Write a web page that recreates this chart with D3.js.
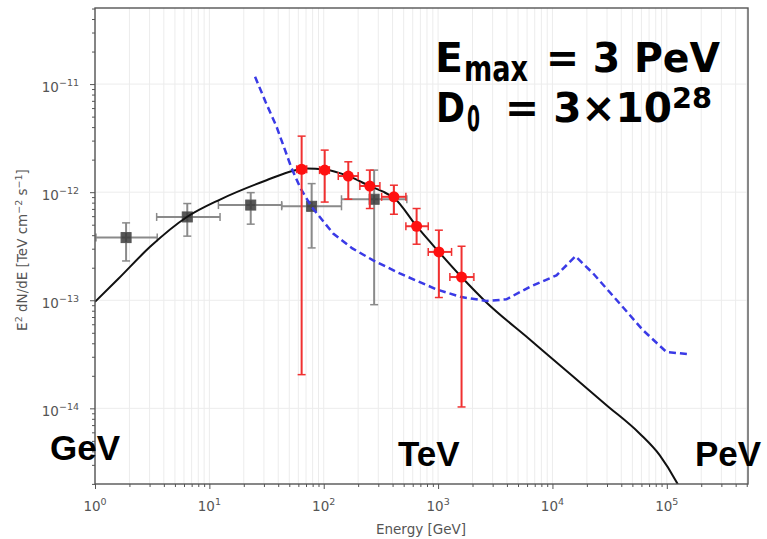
<!DOCTYPE html>
<html>
<head>
<meta charset="utf-8">
<script src="https://cdn.jsdelivr.net/npm/d3@7"></script>
<style>
  html, body { margin: 0; padding: 0; background: #fff; }
  svg { display: block; }
</style>
</head>
<body>
<svg id="chart" width="767" height="539"></svg>
<script>
// Energy axis decades and flux decades used for labelled ticks
const xTickExponents = [0, 1, 2, 3, 4, 5];
const yTickExponents = [-14, -13, -12, -11];

// Fermi-LAT style points (grey squares): energy [GeV], E^2 dN/dE, error ranges
const greyE    = [1.87, 6.41, 23.0, 78.4, 276];
const greyELo  = [1.02, 3.46, 12.0, 42.9, 143];
const greyEHi  = [3.50, 12.4, 42.9, 143, 533];
const greyF    = [3.8e-13, 5.9e-13, 7.6e-13, 7.4e-13, 8.6e-13];
const greyFLo  = [2.31e-13, 3.92e-13, 5.06e-13, 3.05e-13, 9.1e-14];
const greyFHi  = [5.2e-13, 7.85e-13, 9.9e-13, 1.2e-12, 1.6e-12];

// Cherenkov telescope points (red circles)
const redE    = [64.1, 102, 164, 253, 411, 649, 1016, 1604];
const redELo  = [58, 92, 134, 207, 321, 523, 820, 1268];
const redEHi  = [71, 112, 200, 310, 523, 820, 1312, 2056];
const redF    = [1.63e-12, 1.60e-12, 1.41e-12, 1.14e-12, 9.06e-13, 4.84e-13, 2.80e-13, 1.64e-13];
const redFLo  = [2.05e-14, 8.1e-13, 8.6e-13, 7.06e-13, 6.25e-13, 3.3e-13, 1.06e-13, 1.03e-14];
const redFHi  = [3.3e-12, 2.45e-12, 1.91e-12, 1.6e-12, 1.16e-12, 7.06e-13, 4.45e-13, 3.16e-13];

// Hadronic model spectrum (black line)
const modelE = [1.0, 1.60, 3.03, 6.41, 12.4, 31.6, 54.2, 70.8, 102, 164, 262, 331, 419, 649, 1016, 1603, 2564, 6339, 15066, 29717, 58076, 86896, 121619, 130017];
const modelF = [9.66e-14, 1.58e-13, 3.12e-13, 5.92e-13, 8.55e-13, 1.29e-12, 1.58e-12, 1.66e-12, 1.62e-12, 1.41e-12, 1.12e-12, 1.01e-12, 8.71e-13, 4.84e-13, 2.80e-13, 1.64e-13, 9.86e-14, 4.34e-14, 1.98e-14, 1.07e-14, 5.83e-15, 3.67e-15, 2.08e-15, 1.82e-15];

// Instrument sensitivity curve (blue dashed)
const sensE = [25.1, 30.9, 38.7, 52.4, 63.1, 78.3, 121, 178, 271, 463, 971, 1603, 2655, 3963, 6339, 10839, 15888, 22699, 38815, 62087, 99312, 158489];
const sensF = [1.17e-11, 6.9e-12, 4.03e-12, 1.66e-12, 1.07e-12, 7.31e-13, 4.14e-13, 3.02e-13, 2.34e-13, 1.77e-13, 1.26e-13, 1.07e-13, 9.86e-14, 1.02e-13, 1.33e-13, 1.70e-13, 2.55e-13, 1.77e-13, 9.31e-14, 5.27e-14, 3.32e-14, 3.16e-14];

const svg = d3.select("#chart");
const plotLeft = 95, plotRight = 748, plotTop = 8, plotBottom = 484;

const x = d3.scaleLog().domain([1, Math.pow(10, 5.71)]).range([plotLeft, plotRight]);
const y = d3.scaleLog().domain([Math.pow(10, -14.7), Math.pow(10, -10.296)]).range([plotBottom, plotTop]);

svg.append("defs").append("clipPath").attr("id", "plotClip")
  .append("rect").attr("x", plotLeft).attr("y", plotTop).attr("width", plotRight - plotLeft).attr("height", plotBottom - plotTop);

// minor / major tick values
const xMinor = [], yMinor = [];
for (let e = 0; e <= 5; e++) for (let m = 2; m <= 9; m++) {
  const v = m * Math.pow(10, e);
  if (v < x.domain()[1]) xMinor.push(v);
}
for (let e = -15; e <= -11; e++) for (let m = 2; m <= 9; m++) {
  const v = m * Math.pow(10, e);
  if (v > y.domain()[0] && v < y.domain()[1]) yMinor.push(v);
}
const xMajor = xTickExponents.map(e => Math.pow(10, e));
const yMajor = yTickExponents.map(e => Math.pow(10, e));

// grid
const grid = svg.append("g");
grid.selectAll(".vg").data(xMajor.concat(xMinor)).join("line")
  .attr("x1", d => x(d)).attr("x2", d => x(d)).attr("y1", plotTop).attr("y2", plotBottom)
  .attr("stroke", "#ececec").attr("stroke-width", 1);
grid.selectAll(".hg").data(yMajor).join("line")
  .attr("x1", plotLeft).attr("x2", plotRight).attr("y1", d => y(d)).attr("y2", d => y(d))
  .attr("stroke", "#ececec").attr("stroke-width", 1);

// axes with ticks
const xAxis = d3.axisBottom(x).tickValues(xMajor).tickSize(5).tickFormat("");
const xAxisMinor = d3.axisBottom(x).tickValues(xMinor).tickSize(3).tickFormat("");
const yAxis = d3.axisLeft(y).tickValues(yMajor).tickSize(5).tickFormat("");
const yAxisMinor = d3.axisLeft(y).tickValues(yMinor).tickSize(3).tickFormat("");
[[xAxis, `translate(0,${plotBottom})`], [xAxisMinor, `translate(0,${plotBottom})`],
 [yAxis, `translate(${plotLeft},0)`], [yAxisMinor, `translate(${plotLeft},0)`]].forEach(([ax, tr]) => {
  const g = svg.append("g").attr("transform", tr).call(ax);
  g.select(".domain").remove();
  g.selectAll("line").attr("stroke", "#555").attr("stroke-width", 1);
});

// tick labels as 10^n
const labelFont = "'DejaVu Sans', sans-serif";
xTickExponents.forEach(e => {
  const t = svg.append("text").attr("x", x(Math.pow(10, e))).attr("y", 511)
    .attr("text-anchor", "middle").attr("font-family", labelFont).attr("font-size", 13.5).attr("fill", "#555");
  t.append("tspan").text("10");
  t.append("tspan").attr("dy", -6).attr("font-size", 9.5).text(String(e));
});
yTickExponents.forEach(e => {
  const t = svg.append("text").attr("x", 79).attr("y", y(Math.pow(10, e)) + 8)
    .attr("text-anchor", "end").attr("font-family", labelFont).attr("font-size", 13.5).attr("fill", "#555");
  t.append("tspan").text("10");
  t.append("tspan").attr("dy", -6).attr("font-size", 9.5).text("\u2212" + Math.abs(e));
});

// axis titles
svg.append("text").attr("x", 421).attr("y", 534).attr("text-anchor", "middle")
  .attr("font-family", labelFont).attr("font-size", 13.5).attr("fill", "#555").text("Energy [GeV]");
const yl = svg.append("text").attr("transform", "translate(27,250) rotate(-90)").attr("text-anchor", "middle")
  .attr("font-family", labelFont).attr("font-size", 13.5).attr("fill", "#555");
yl.append("tspan").text("E");
yl.append("tspan").attr("dy", -5).attr("font-size", 9.5).text("2");
yl.append("tspan").attr("dy", 5).text(" dN/dE [TeV cm");
yl.append("tspan").attr("dy", -5).attr("font-size", 9.5).text("\u22122");
yl.append("tspan").attr("dy", 5).text(" s");
yl.append("tspan").attr("dy", -5).attr("font-size", 9.5).text("\u22121");
yl.append("tspan").attr("dy", 5).text("]");

const plot = svg.append("g").attr("clip-path", "url(#plotClip)");

// grey points with error bars
const gg = plot.append("g");
d3.range(greyE.length).forEach(i => {
  const cx = x(greyE[i]), cy = y(greyF[i]);
  const c = "#8a8a8a";
  gg.append("line").attr("x1", x(greyELo[i])).attr("x2", x(greyEHi[i])).attr("y1", cy).attr("y2", cy).attr("stroke", c).attr("stroke-width", 2);
  gg.append("line").attr("x1", cx).attr("x2", cx).attr("y1", y(greyFLo[i])).attr("y2", y(greyFHi[i])).attr("stroke", c).attr("stroke-width", 2);
  [greyELo[i], greyEHi[i]].forEach(v => gg.append("line").attr("x1", x(v)).attr("x2", x(v)).attr("y1", cy - 4).attr("y2", cy + 4).attr("stroke", c).attr("stroke-width", 1.5));
  [greyFLo[i], greyFHi[i]].forEach(v => gg.append("line").attr("x1", cx - 4).attr("x2", cx + 4).attr("y1", y(v)).attr("y2", y(v)).attr("stroke", c).attr("stroke-width", 1.5));
  gg.append("rect").attr("x", cx - 5).attr("y", cy - 5).attr("width", 10).attr("height", 10)
    .attr("fill", "#3a3a3a").attr("fill-opacity", 0.85).attr("stroke", "#555").attr("stroke-width", 1);
});

// model line
const modelPts = d3.range(modelE.length).map(i => [modelE[i], modelF[i]]);
plot.append("path").datum(modelPts)
  .attr("d", d3.line().x(d => x(d[0])).y(d => y(d[1])).curve(d3.curveMonotoneX))
  .attr("fill", "none").attr("stroke", "#111").attr("stroke-width", 2);

// sensitivity line
const sensPts = d3.range(sensE.length).map(i => [sensE[i], sensF[i]]);
plot.append("path").datum(sensPts)
  .attr("d", d3.line().x(d => x(d[0])).y(d => y(d[1])).curve(d3.curveLinear))
  .attr("fill", "none").attr("stroke", "#3a3ae6").attr("stroke-width", 2.5)
  .attr("stroke-dasharray", "7,4");

// red points with error bars
const rg = plot.append("g");
d3.range(redE.length).forEach(i => {
  const cx = x(redE[i]), cy = y(redF[i]);
  const c = "#f03030";
  rg.append("line").attr("x1", x(redELo[i])).attr("x2", x(redEHi[i])).attr("y1", cy).attr("y2", cy).attr("stroke", c).attr("stroke-width", 2);
  rg.append("line").attr("x1", cx).attr("x2", cx).attr("y1", y(redFLo[i])).attr("y2", y(redFHi[i])).attr("stroke", c).attr("stroke-width", 2);
  [redELo[i], redEHi[i]].forEach(v => rg.append("line").attr("x1", x(v)).attr("x2", x(v)).attr("y1", cy - 4).attr("y2", cy + 4).attr("stroke", c).attr("stroke-width", 1.5));
  [redFLo[i], redFHi[i]].forEach(v => rg.append("line").attr("x1", cx - 4).attr("x2", cx + 4).attr("y1", y(v)).attr("y2", y(v)).attr("stroke", c).attr("stroke-width", 1.5));
  rg.append("circle").attr("cx", cx).attr("cy", cy).attr("r", 5.5).attr("fill", "#ff1010");
});

// plot frame
svg.append("rect").attr("x", plotLeft).attr("y", plotTop).attr("width", plotRight - plotLeft).attr("height", plotBottom - plotTop)
  .attr("fill", "none").attr("stroke", "#555").attr("stroke-width", 1.4);

// parameter annotations
const big = "'DejaVu Sans', sans-serif";
function word(txt, px, py, size, len) {
  const t = svg.append("text").attr("x", px).attr("y", py).attr("font-family", big)
    .attr("font-weight", "bold").attr("font-size", size).attr("fill", "#000").text(txt);
  if (len) t.attr("textLength", len).attr("lengthAdjust", "spacingAndGlyphs");
  return t;
}
word("E", 435, 72, 41, 28);
word("max", 464, 81, 36, 64);
word("= 3 PeV", 546, 72, 41, 174);
word("D", 436, 122, 41, 29);
word("0", 467, 131, 36, 13);
// "= 3×10" with its superscript exponent in a single text element
const d0 = svg.append("text").attr("x", 505).attr("y", 122).attr("font-family", big)
  .attr("font-weight", "bold").attr("font-size", 41).attr("fill", "#000")
  .attr("textLength", 207).attr("lengthAdjust", "spacingAndGlyphs");
d0.append("tspan").text("= 3\u00d710");
d0.append("tspan").attr("dy", -14).attr("font-size", 29).text("28");

// energy scale markers
const scaleFont = "'Liberation Sans', Arial, sans-serif";
[["GeV", 50, 460], ["TeV", 398, 466], ["PeV", 695, 466]].forEach(([t, px, py]) => {
  svg.append("text").attr("x", px).attr("y", py).attr("font-family", scaleFont)
    .attr("font-weight", "bold").attr("font-size", 35).attr("fill", "#000").text(t);
});
</script>
</body>
</html>
